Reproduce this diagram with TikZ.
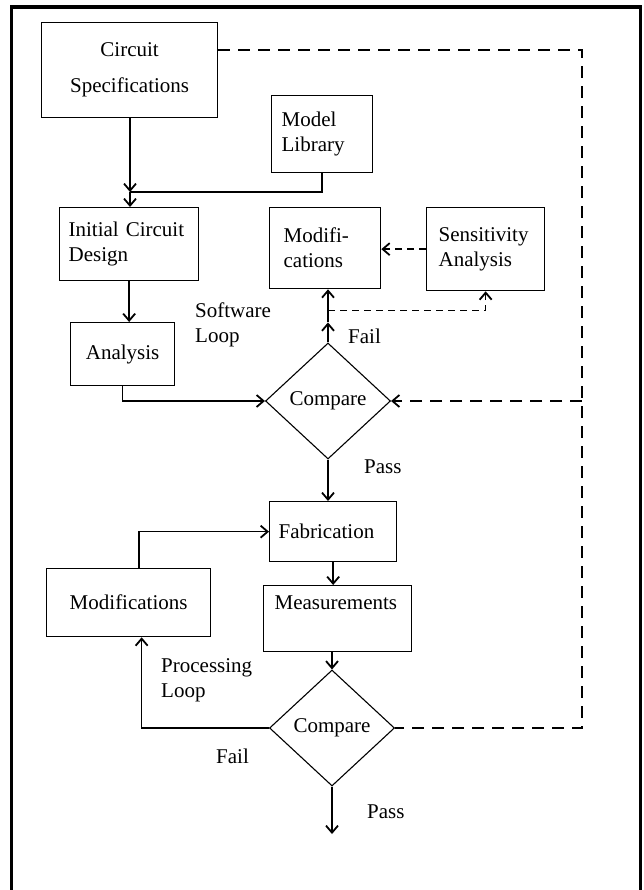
\documentclass[tikz,border=0pt]{standalone}
\usepackage{fontspec}
\setmainfont{Liberation Serif}
\usetikzlibrary{arrows.meta,shapes.geometric,calc}
\begin{document}
\begin{tikzpicture}[x=1pt,y=-1pt,
  every node/.style={font=\fontsize{21}{25}\selectfont},
  box/.style={draw, line width=1.3pt, inner sep=0pt, anchor=north west},
  dia/.style={draw, shape=diamond, line width=1.1pt, inner sep=0pt, minimum width=125pt, minimum height=116pt},
  lbl/.style={inner sep=0pt, anchor=west, align=left},
  conn/.style={line width=1.4pt},
  arr/.style={conn, -{Straight Barb[length=7pt,width=12pt,line width=1.8pt]}},
  dsh/.style={conn, dash pattern=on 12pt off 8pt},
  dshs/.style={conn, dash pattern=on 7pt off 5pt},
]
\useasboundingbox (0,0) rectangle (643,890);
% frame
\draw[line width=3.5pt] (11.5,900) -- (11.5,7) -- (640.5,7) -- (640.5,900);

% boxes
\node[box, minimum width=176pt, minimum height=95pt, align=center] (cs) at (41,22) {Circuit\\[11pt]Specifications};
\node[box, minimum width=101pt, minimum height=77pt, text width=81pt, align=left] (ml) at (271,95) {Model\\Library};
\node[box, minimum width=139pt, minimum height=73pt, text width=121pt, align=left] (icd) at (59,207) {Initial Circuit\\Design};
\node[box, minimum width=111pt, minimum height=81pt, text width=83pt, align=left] (mod1) at (269,207) {Modifi-\\cations};
\node[box, minimum width=118pt, minimum height=83pt, text width=94pt, align=left] (sa) at (426,207) {Sensitivity\\Analysis};
\node[box, minimum width=104pt, minimum height=63pt, align=center] (an) at (70,322) {Analysis};
\node[dia] (d1) at (328,401) {Compare};
\node[box, minimum width=127pt, minimum height=60pt, text width=109pt, align=left] (fab) at (269,501) {Fabrication};
\node[box, minimum width=164pt, minimum height=68pt, align=center] (mod2) at (46,568) {Modifications};
\node[box, minimum width=148pt, minimum height=66pt, text width=126pt, align=left] (meas) at (263,585) {Measurements\\\strut};
\node[dia] (d2) at (332,728) {Compare};

% labels
\node[lbl] (sw) at (195,325) {Software\\Loop};
\node[lbl] (fail1) at (348,336) {Fail};
\node[lbl] (pass1) at (364,467) {Pass};
\node[lbl] (pl) at (161,680) {Processing\\Loop};
\node[lbl] (fail2) at (216,756) {Fail};
\node[lbl] (pass2) at (367,812) {Pass};

% connectors
\coordinate (j1) at (130,192);
\draw[arr] (cs.south -| j1) -- (j1);
\draw[arr] (j1) -- (j1 |- icd.north);
\draw[conn] (ml.south) |- (j1);
\draw[arr] (icd.south) -- (icd.south |- an.north);
\draw[arr] (an.south) |- (d1.west);

\coordinate (f1) at ($(d1.north)+(0,-20)$);
\coordinate (j2) at ($(d1.north)+(0,-32)$);
\draw[arr] (d1.north) -- (f1);
\draw[conn] (f1) -- (j2);
\draw[arr] (j2) -- (j2 |- mod1.south);
\draw[dshs, arr] (j2) -| (sa.south);
\draw[dshs, arr] (sa.west) -- (sa.west -| mod1.east);

\coordinate (dtop) at (582,50);
\coordinate (dbot) at (582,728);
\draw[dsh] (cs.east |- dtop) -- (dtop) -- (dbot) -- (d2.east);
\draw[dsh, arr] (dbot |- d1.east) -- (d1.east);

\draw[arr] (d1.south) -- (d1.south |- fab.north);
\coordinate (j3) at (139,529);
\draw[arr] (mod2.north -| j3) |- (fab.west);
\draw[arr] (fab.south) -- (fab.south |- meas.north);
\draw[arr] (meas.south -| d2.north) -- (d2.north);
\draw[arr] (d2.west) -| ($(mod2.south)+(13,0)$);
\coordinate (endp) at (334,834);
\draw[arr] (d2.south) -- (d2.south |- endp);
\end{tikzpicture}
\end{document}
